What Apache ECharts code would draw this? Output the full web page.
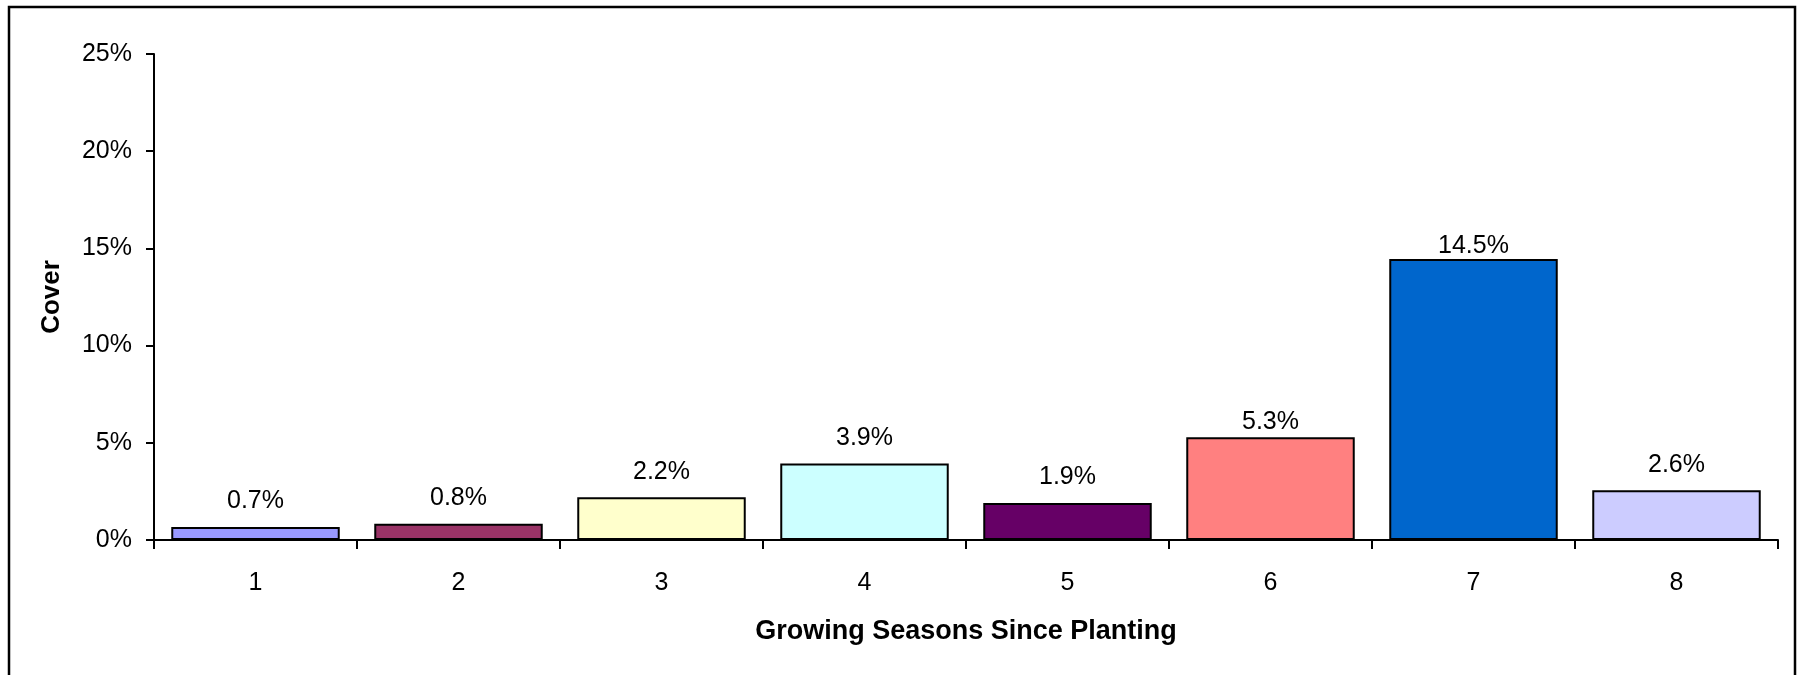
<!DOCTYPE html>
<html>
<head>
<meta charset="utf-8">
<script src="https://cdn.jsdelivr.net/npm/echarts@6/dist/echarts.min.js"></script>
<style>
  html, body { margin: 0; padding: 0; background: #fff; }
  #chart { width: 1802px; height: 675px; }
</style>
</head>
<body>
<div id="chart"></div>
<script>
// growing seasons since planting
var seasons = ['1', '2', '3', '4', '5', '6', '7', '8'];
// cover, percent
var cover = [0.67, 0.84, 2.2, 3.94, 1.9, 5.28, 14.46, 2.56];
var barColors = ['#9999FF', '#993366', '#FFFFCC', '#CCFFFF', '#660066', '#FF8080', '#0066CC', '#CCCCFF'];

var font = 'Liberation Sans, Arial, sans-serif';
var chart = echarts.init(document.getElementById('chart'));

// excel squeezed the labels of the two tallest bars closer to the bar
var labelGap = { 5: 3, 6: 0 };

var seriesData = cover.map(function (v, i) {
  var item = { value: v, itemStyle: { color: barColors[i] } };
  if (labelGap[i] !== undefined) {
    item.label = { distance: labelGap[i] };
  }
  return item;
});

var option = {
  animation: false,
  backgroundColor: '#fff',
  graphic: [{
    type: 'rect',
    shape: { x: 9, y: 7, width: 1786, height: 720 },
    style: { fill: 'none', stroke: '#000', lineWidth: 2.5 },
    silent: true
  }],
  grid: { left: 154, right: 24, top: 54, bottom: 135 },
  xAxis: {
    type: 'category',
    data: seasons,
    name: 'Growing Seasons Since Planting',
    nameLocation: 'middle',
    nameGap: 78,
    nameTextStyle: { fontFamily: font, fontSize: 27, fontWeight: 'bold', color: '#000' },
    axisLine: { lineStyle: { color: '#000', width: 2 } },
    axisTick: { show: true, length: 9, lineStyle: { color: '#000', width: 2 } },
    axisLabel: { fontFamily: font, fontSize: 25, color: '#000', margin: 31 }
  },
  yAxis: {
    type: 'value',
    min: 0,
    max: 25,
    interval: 5,
    name: 'Cover',
    nameLocation: 'middle',
    nameGap: 89,
    nameRotate: 90,
    nameTextStyle: { fontFamily: font, fontSize: 26, fontWeight: 'bold', color: '#000' },
    axisLine: { show: true, lineStyle: { color: '#000', width: 2 } },
    axisTick: { show: true, length: 8, lineStyle: { color: '#000', width: 2 } },
    axisLabel: { fontFamily: font, fontSize: 25, color: '#000', margin: 22, formatter: '{value}%' },
    splitLine: { show: false }
  },
  series: [{
    type: 'bar',
    data: seriesData,
    barCategoryGap: '17%',
    itemStyle: { borderColor: '#000', borderWidth: 2 },
    label: {
      show: true,
      position: 'top',
      distance: 13,
      fontFamily: font,
      fontSize: 25,
      color: '#000',
      formatter: function (p) { return p.value.toFixed(1) + '%'; }
    }
  }]
};

chart.setOption(option);
</script>
</body>
</html>
